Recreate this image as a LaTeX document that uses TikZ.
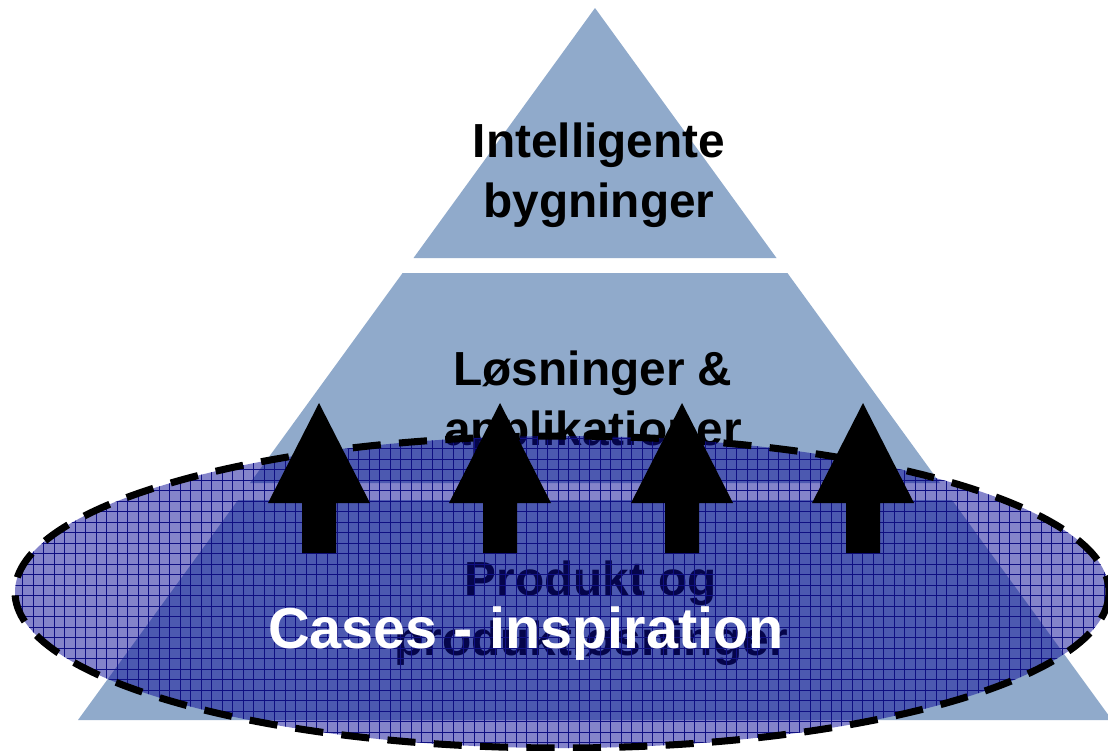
\documentclass[tikz,border=0pt]{standalone}
\usepackage{fontspec}
\setmainfont{Liberation Sans}

\definecolor{pyrblue}{RGB}{144,170,203}
\definecolor{caseblue}{RGB}{10,10,150}
\definecolor{gridblue}{RGB}{15,15,130}

\tikzset{
    tier/.style={fill=pyrblue, draw=none},
    tiertext/.style={align=center, inner sep=0pt, font=\fontsize{34}{43}\selectfont\bfseries},
    blockarrow/.style={fill=black, draw=none}
}

\begin{document}
\begin{tikzpicture}[x=0.025cm, y=-0.025cm]

        \useasboundingbox (0, 0) rectangle (1108, 750);

        % pyramid
        \fill[tier] (595, 8) -- (776.5, 258) -- (413.5, 258) -- cycle;
        \fill[tier] (402.6, 273) -- (787.4, 273) -- (940, 483) -- (250, 483) -- cycle;
        \fill[tier] (238, 500) -- (952, 500) -- (1112, 720) -- (78, 720) -- cycle;

        \node[tiertext] (top) at (599, 175.5) {Intelligente\\bygninger};
        \node[tiertext] (middle) at (593, 403) {Løsninger \&\\applikationer};
        \node[tiertext] (bottom) at (591, 613) {Produkt og\\produktløsninger};

        % cases ellipse
        \fill[caseblue, opacity=0.5] (562, 592) ellipse [x radius=547, y radius=156];
        \begin{scope}
            \clip (562, 592) ellipse [x radius=547, y radius=156];
            \foreach \gx in {12, 22.5, ..., 1115}
                \draw[gridblue, line width=0.7pt] (\gx, 430) -- (\gx, 755);
            \foreach \gy in {438, 448.5, ..., 755}
                \draw[gridblue, line width=0.7pt] (10, \gy) -- (1115, \gy);
        \end{scope}
        \draw[black, line width=5pt, dash pattern=on 20pt off 13pt] (562, 592) ellipse [x radius=547, y radius=156];

        % arrows
        \fill[blockarrow] (319, 403) -- (370, 503) -- (336, 503) -- (336, 553) -- (302, 553) -- (302, 503) -- (268, 503) -- cycle;
        \fill[blockarrow] (500, 403) -- (551, 503) -- (517, 503) -- (517, 553) -- (483, 553) -- (483, 503) -- (449, 503) -- cycle;
        \fill[blockarrow] (682, 403) -- (733, 503) -- (699, 503) -- (699, 553) -- (665, 553) -- (665, 503) -- (631, 503) -- cycle;
        \fill[blockarrow] (863, 403) -- (914, 503) -- (880, 503) -- (880, 553) -- (846, 553) -- (846, 503) -- (812, 503) -- cycle;

        \node[anchor=base, inner sep=0pt, white, font=\fontsize{41}{49}\selectfont\bfseries] (cases) at (526, 648) {Cases - inspiration};

\end{tikzpicture}
\end{document}
